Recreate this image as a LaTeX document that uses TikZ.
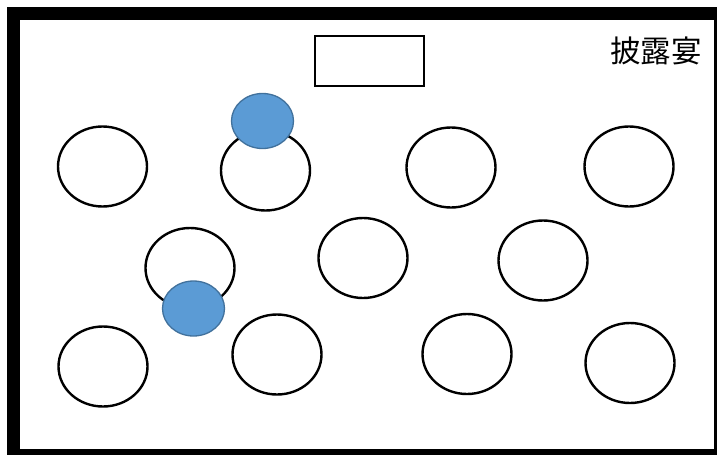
\documentclass[tikz,border=0pt]{standalone}
\usepackage{fontspec}
\newfontfamily\cjk{Noto Sans CJK JP}
\definecolor{seatblue}{HTML}{5B9BD5}
\definecolor{seatedge}{HTML}{41719C}
\begin{document}
\begin{tikzpicture}[x=1pt,y=-1pt,
  guest/.style={draw=seatedge,line width=1.3pt,fill=seatblue}]
\useasboundingbox (0,0) rectangle (717,455);
\fill[white] (0,0) rectangle (717,455);
\fill[black] (7,7) rectangle (717,455);
\fill[white] (20,20) rectangle (714,449);
% stage
\node[draw=black,line width=2.4pt,minimum width=109pt,minimum height=50pt,inner sep=0pt] (stage) at (369.5,61) {};
\node[font=\cjk\fontsize{30.5}{32}\selectfont,inner sep=0pt] (title) at (656,51) {披露宴};
% tables
\foreach \n/\cx/\cy in {t1/102.5/166.5, t2/265.5/170.5, t3/451/167.5, t4/629/166.5,
                        t5/190/268, t6/363/258, t7/543/260.5,
                        t8/103/366.5, t9/277/354.5, t10/467/354, t11/630/363}{
  \draw[black,line width=2.4pt,fill=white] (\cx,\cy) ellipse [x radius=44.5, y radius=40];
  \coordinate (\n) at (\cx,\cy);
}
% guests
\draw[guest] (262.5,121) ellipse [x radius=31, y radius=27.5];
\coordinate (g1) at (262.5,121);
\draw[guest] (193.5,308.5) ellipse [x radius=31, y radius=27.5];
\coordinate (g2) at (193.5,308.5);
\end{tikzpicture}
\end{document}
